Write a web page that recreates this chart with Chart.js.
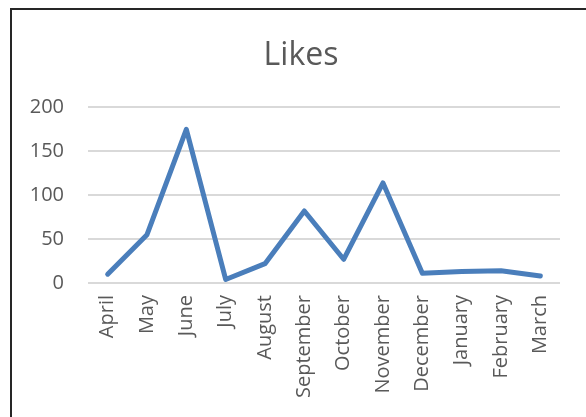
<!DOCTYPE html>
<html>
<head>
<meta charset="utf-8">
<script src="https://cdn.jsdelivr.net/npm/chart.js@4"></script>
<style>
  html, body { margin: 0; padding: 0; background: #fff; }
  #wrap { position: relative; width: 586px; height: 417px; overflow: hidden; }
  #frame { position: absolute; left: 10px; top: 8px; width: 600px; height: 420px;
           border-left: 2px solid #262626; border-top: 2px solid #262626; }
  canvas { position: absolute; left: 0; top: 0; }
</style>
</head>
<body>
<div id="wrap">
  <div id="frame"></div>
  <canvas id="likesChart" width="586" height="417"></canvas>
</div>
<script>
// chart data
const months = ['April', 'May', 'June', 'July', 'August', 'September', 'October',
                'November', 'December', 'January', 'February', 'March'];
const likes = [10, 55, 175, 4, 22, 82, 27, 114, 11, 13, 14, 8];
const yTicks = [0, 50, 100, 150, 200];

document.addEventListener('DOMContentLoaded', () => {
    const textColor = '#595959';
    const gridColor = '#d9d9d9';
    const fontFamily = "'Open Sans', 'Noto Sans', sans-serif";

    // title in the original sits centred on the frame, not on the canvas
    const shiftTitle = {
        id: 'shiftTitle',
        afterLayout(chart) {
            if (chart.titleBlock) chart.titleBlock.left = 42;
        }
    };

    new Chart(document.getElementById('likesChart'), {
        type: 'line',
        data: {
            labels: months,
            datasets: [{
                label: 'Likes',
                data: likes,
                borderColor: '#4a7ebb',
                borderWidth: 5,
                borderJoinStyle: 'round',
                borderCapStyle: 'round',
                pointRadius: 0,
                tension: 0,
                fill: false
            }]
        },
        options: {
            responsive: false,
            animation: false,
            layout: { padding: { top: 37, left: 0, right: 26, bottom: 0 } },
            plugins: {
                legend: { display: false },
                tooltip: { enabled: false },
                title: {
                    display: true,
                    text: 'Likes',
                    color: textColor,
                    font: { family: fontFamily, size: 32, weight: 'normal' },
                    padding: { top: 0, bottom: 32 }
                }
            },
            scales: {
                x: {
                    offset: true,
                    grid: { display: false },
                    border: { display: false },
                    ticks: {
                        color: textColor,
                        font: { family: fontFamily, size: 20 },
                        minRotation: 90,
                        maxRotation: 90,
                        autoSkip: false,
                        padding: 4
                    },
                    afterFit: (scale) => { scale.height = 134; }
                },
                y: {
                    min: 0,
                    max: 200,
                    afterBuildTicks: (scale) => {
                        scale.ticks = yTicks.map(v => ({ value: v }));
                    },
                    grid: { color: gridColor, lineWidth: 2, drawTicks: false },
                    border: { display: false },
                    ticks: {
                        color: textColor,
                        font: { family: fontFamily, size: 20 },
                        padding: 24
                    },
                    afterFit: (scale) => { scale.width = 88; }
                }
            }
        },
        plugins: [shiftTitle]
    });
});
</script>
</body>
</html>
